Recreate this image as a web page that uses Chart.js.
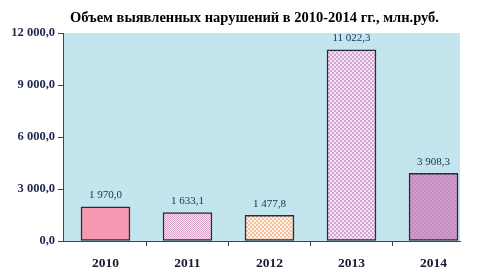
<!DOCTYPE html>
<html><head><meta charset="utf-8">
<script src="https://cdn.jsdelivr.net/npm/chart.js@4.4.0/dist/chart.umd.min.js"></script>
<style>html,body{margin:0;padding:0;background:#fff;}#wrap{width:482px;height:278px;position:relative;}</style>
</head><body><div id="wrap"><canvas id="c"></canvas></div>
<script>
const titleText = 'Объем выявленных нарушений в 2010-2014 гг., млн.руб.';
const categories = ['2010', '2011', '2012', '2013', '2014'];
const values = [1970.0, 1633.1, 1477.8, 11022.3, 3908.3];
const yTicks = [0, 3000, 6000, 9000, 12000];

function fmt(v) {
  const s = v.toFixed(1).split('.');
  return s[0].replace(/\B(?=(\d{3})+(?!\d))/g, ' ') + ',' + s[1];
}
function makePattern(c1, c2, cell) {
  const cv = document.createElement('canvas');
  cv.width = cell * 2; cv.height = cell * 2;
  const g = cv.getContext('2d');
  g.fillStyle = c1; g.fillRect(0, 0, cell * 2, cell * 2);
  g.fillStyle = c2; g.fillRect(0, 0, cell, cell); g.fillRect(cell, cell, cell, cell);
  return g.createPattern(cv, 'repeat');
}
const fills = [
  '#f59ab2',
  makePattern('#f3e6ee', '#d8a6c6', 1),
  makePattern('#fdf0e6', '#f3c0a0', 2),
  makePattern('#f4e4f2', '#d4a4d6', 2),
  makePattern('#c48cbc', '#d29ccc', 2)
];
const serif = '"Liberation Serif", "Times New Roman", serif';

const bgPlugin = {
  id: 'bg',
  beforeDraw(chart) {
    const a = chart.chartArea, ctx = chart.ctx;
    ctx.save(); ctx.fillStyle = '#c3e6ee';
    ctx.fillRect(a.left, a.top, a.right - a.left, a.bottom - a.top);
    ctx.restore();
  }
};
const titlePlugin = {
  id: 'mytitle',
  afterDraw(chart) {
    const ctx = chart.ctx, a = chart.chartArea;
    ctx.save();
    ctx.font = 'bold 14.5px ' + serif;
    ctx.fillStyle = '#000';
    ctx.textAlign = 'center'; ctx.textBaseline = 'middle';
    ctx.fillText(titleText, (a.left + a.right) / 2 - 7, a.top - 15);
    ctx.restore();
  }
};
const labelPlugin = {
  id: 'vals',
  afterDatasetsDraw(chart) {
    const ctx = chart.ctx;
    const meta = chart.getDatasetMeta(0);
    ctx.save();
    ctx.font = '11px ' + serif;
    ctx.fillStyle = '#1e2a55';
    ctx.textAlign = 'center'; ctx.textBaseline = 'bottom';
    meta.data.forEach((el, i) => { ctx.fillText(fmt(values[i]), el.x, el.y - 6); });
    ctx.restore();
  }
};

new Chart(document.getElementById('c'), {
  type: 'bar',
  data: {
    datasets: [{
      data: categories.map((c, i) => ({ x: Number(c), y: values[i] })),
      backgroundColor: fills,
      borderColor: '#2a2a3a',
      borderWidth: 1.5,
      borderSkipped: false,
      barThickness: 49
    }]
  },
  options: {
    responsive: true, maintainAspectRatio: false, animation: false,
    layout: { padding: { left: 0, right: 22, top: 33, bottom: 0 } },
    plugins: { legend: { display: false }, tooltip: { enabled: false }, title: { display: false } },
    scales: {
      x: {
        type: 'linear', min: 2009.482, max: 2014.323, offset: false,
        afterBuildTicks(scale) {
          const t = [];
          categories.forEach((c, i) => { t.push({ value: Number(c) }); if (i < categories.length - 1) t.push({ value: Number(c) + 0.5 }); });
          scale.ticks = t;
        },
        afterFit(scale) { scale.height = 37; },
        grid: { offset: false, drawOnChartArea: false, tickLength: 5, tickColor: (ctx) => (ctx.tick && Number.isInteger(ctx.tick.value)) ? 'rgba(0,0,0,0)' : '#444' },
        border: { color: '#444', width: 1 },
        ticks: {
          autoSkip: false, maxRotation: 0, padding: 9, color: '#1a1a30',
          font: { family: serif, size: 13.5, weight: 'bold' },
          callback: (v) => Number.isInteger(v) ? String(v) : ''
        }
      },
      y: {
        min: 0, max: 12000,
        afterBuildTicks(scale) { scale.ticks = yTicks.map(v => ({ value: v })); },
        afterFit(scale) { scale.width = 63; },
        grid: { drawOnChartArea: false, tickLength: 5, tickColor: '#444' },
        border: { color: '#444', width: 1 },
        ticks: {
          padding: 3, color: '#1e2550',
          font: { family: serif, size: 12.5, weight: 'bold' },
          callback: (v) => fmt(v)
        }
      }
    }
  },
  plugins: [bgPlugin, labelPlugin, titlePlugin]
});
</script></body></html>
